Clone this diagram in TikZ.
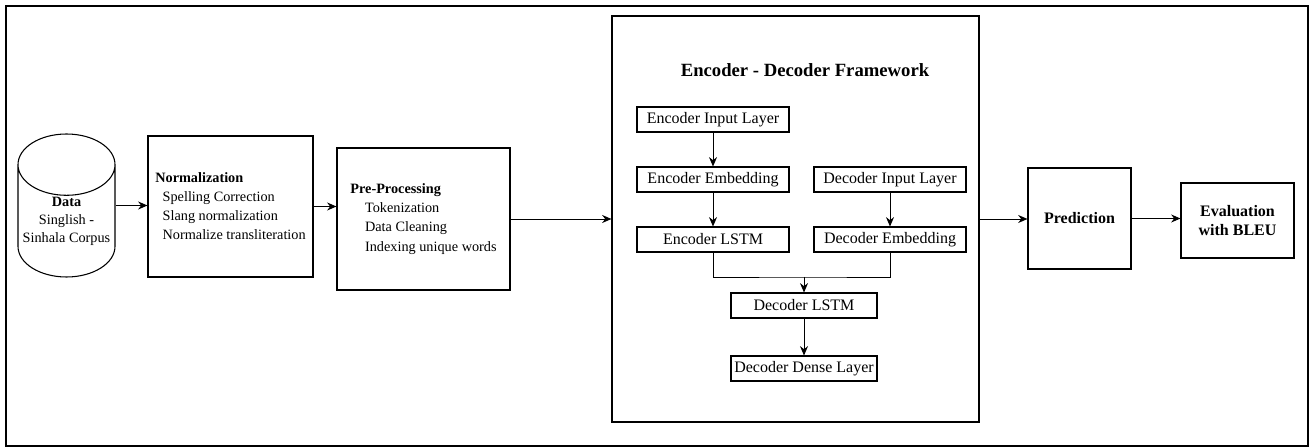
\documentclass[tikz,border=0pt]{standalone}
\usepackage{fontspec}
\setmainfont{Liberation Serif}
\usetikzlibrary{shapes.geometric,arrows.meta}
\begin{document}
\begin{tikzpicture} [x=0.75pt,y=-0.75pt,
    box/.style={draw,line width=0.8pt,inner sep=0pt,align=left,font=\fontsize{10.7}{14.3}\selectfont},
    layer/.style={draw,line width=0.8pt,inner sep=0pt,minimum width=114pt,minimum height=18.75pt,font=\fontsize{12}{14}\selectfont},
    arr/.style={-{Stealth[length=7pt,width=6pt]},line width=0.7pt},
    thickarr/.style={-{Stealth[length=7pt,width=6pt]},line width=1.3pt}]
    \useasboundingbox (0,0) rectangle (1312,448);
    \draw[line width=1pt] (6,6) rectangle (1308,446);
    % left part
    \node[draw,line width=0.8pt,cylinder,shape border rotate=90,shape aspect=0.7,minimum width=72.75pt,minimum height=107.25pt,inner sep=0pt,align=center,anchor=shape center,font=\fontsize{10.7}{13.5}\selectfont] (data) at (66.5,205.5) {\textbf{Data}\\Singlish -\\Sinhala Corpus};
    \node[box,minimum width=123.75pt,minimum height=105.75pt] (norm) at (230.5,206.5) {\textbf{Normalization}\\\hspace*{5.5pt}Spelling Correction\\\hspace*{5.5pt}Slang normalization\\\hspace*{5.5pt}Normalize transliteration};
    \node[box,minimum width=129.75pt,minimum height=106.5pt] (prep) at (423.5,219) {\textbf{Pre-Processing}\\\hspace*{11pt}Tokenization\\\hspace*{11pt}Data Cleaning\\\hspace*{11pt}Indexing unique words};
    % framework
    \node[draw,line width=0.8pt,minimum width=275.25pt,minimum height=304.5pt,inner sep=0pt] (frame) at (795.5,219) {};
    \node[font=\fontsize{14}{16}\selectfont\bfseries] (title) at (805,70) {Encoder - Decoder Framework};
    \node[layer] (encin) at (713,119.5) {Encoder Input Layer};
    \node[layer] (encemb) at (713,179.5) {Encoder Embedding};
    \node[layer] (enclstm) at (713,239.5) {Encoder LSTM};
    \node[layer] (decin) at (890,179.5) {Decoder Input Layer};
    \node[layer] (decemb) at (890,239.5) {Decoder Embedding};
    \node[layer,minimum width=109.5pt] (declstm) at (804,305.5) {Decoder LSTM};
    \node[layer,minimum width=109.5pt] (dense) at (804,368.5) {Decoder Dense Layer};
    \coordinate (mrg) at (804,277);
    % right part
    \node[box,align=center,minimum width=77.25pt,minimum height=75.75pt,font=\fontsize{12}{14}\selectfont\bfseries] (pred) at (1079.5,218.5) {Prediction};
    \node[box,align=center,minimum width=84.75pt,minimum height=56.25pt,font=\fontsize{12}{14}\selectfont\bfseries] (eval) at (1237.5,220.5) {Evaluation\\with BLEU};
    % connectors
    \draw[thickarr] (data.shape center -| data.east) -- (data.shape center -| norm.west);
    \draw[thickarr] (norm.east) -- (norm.east -| prep.west);
    \draw[arr] (prep.east) -- (prep.east -| frame.west);
    \draw[arr] (encin) -- (encemb);
    \draw[arr] (encemb) -- (enclstm);
    \draw[arr] (decin) -- (decemb);
    \draw[line width=0.7pt] (enclstm.south) |- (mrg) -| (decemb.south);
    \draw[arr] (mrg) -- (declstm.north);
    \draw[arr] (declstm) -- (dense);
    \draw[arr] (frame.east) -- (frame.east -| pred.west);
    \draw[arr] (pred.east) -- (pred.east -| eval.west);
\end{tikzpicture}
\end{document}
